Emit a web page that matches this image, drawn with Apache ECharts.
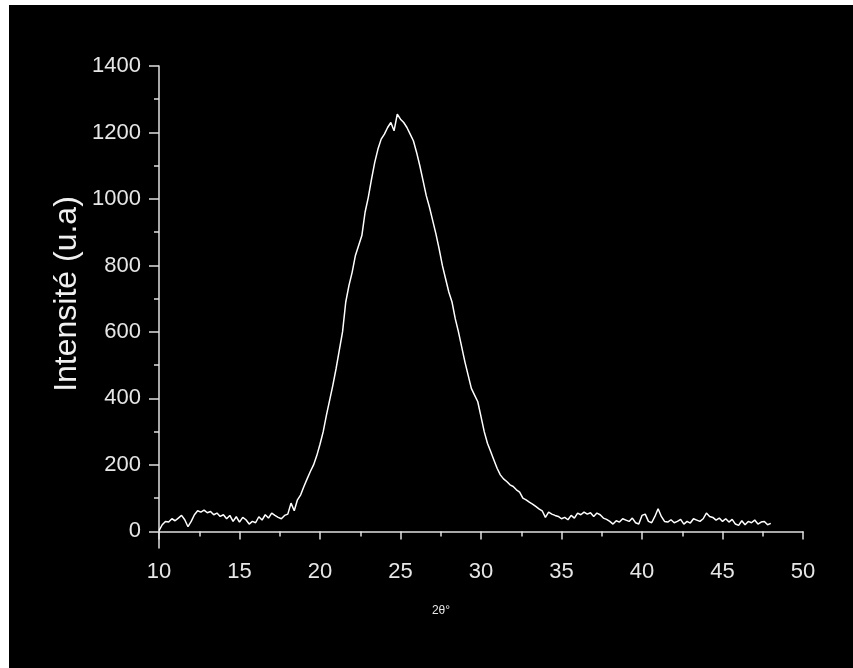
<!DOCTYPE html>
<html>
<head>
<meta charset="utf-8">
<script src="https://cdn.jsdelivr.net/npm/echarts@6/dist/echarts.min.js"></script>
<style>
  html, body { margin: 0; padding: 0; background: #fff; }
  #chart { width: 853px; height: 668px; }
</style>
</head>
<body>
<div id="chart"></div>
<script>
// 2theta sampling (degrees)
const twoTheta = [
  10.0, 10.2, 10.4, 10.6, 10.8, 11.0, 11.2, 11.4, 11.6, 11.8,
  12.0, 12.2, 12.4, 12.6, 12.8, 13.0, 13.2, 13.4, 13.6, 13.8,
  14.0, 14.2, 14.4, 14.6, 14.8, 15.0, 15.2, 15.4, 15.6, 15.8,
  16.0, 16.2, 16.4, 16.6, 16.8, 17.0, 17.2, 17.4, 17.6, 17.8,
  18.0, 18.2, 18.4, 18.6, 18.8, 19.0, 19.2, 19.4, 19.6, 19.8,
  20.0, 20.2, 20.4, 20.6, 20.8, 21.0, 21.2, 21.4, 21.6, 21.8,
  22.0, 22.2, 22.4, 22.6, 22.8, 23.0, 23.2, 23.4, 23.6, 23.8,
  24.0, 24.2, 24.4, 24.6, 24.8, 25.0, 25.2, 25.4, 25.6, 25.8,
  26.0, 26.2, 26.4, 26.6, 26.8, 27.0, 27.2, 27.4, 27.6, 27.8,
  28.0, 28.2, 28.4, 28.6, 28.8, 29.0, 29.2, 29.4, 29.6, 29.8,
  30.0, 30.2, 30.4, 30.6, 30.8, 31.0, 31.2, 31.4, 31.6, 31.8,
  32.0, 32.2, 32.4, 32.6, 32.8, 33.0, 33.2, 33.4, 33.6, 33.8,
  34.0, 34.2, 34.4, 34.6, 34.8, 35.0, 35.2, 35.4, 35.6, 35.8,
  36.0, 36.2, 36.4, 36.6, 36.8, 37.0, 37.2, 37.4, 37.6, 37.8,
  38.0, 38.2, 38.4, 38.6, 38.8, 39.0, 39.2, 39.4, 39.6, 39.8,
  40.0, 40.2, 40.4, 40.6, 40.8, 41.0, 41.2, 41.4, 41.6, 41.8,
  42.0, 42.2, 42.4, 42.6, 42.8, 43.0, 43.2, 43.4, 43.6, 43.8,
  44.0, 44.2, 44.4, 44.6, 44.8, 45.0, 45.2, 45.4, 45.6, 45.8,
  46.0, 46.2, 46.4, 46.6, 46.8, 47.0, 47.2, 47.4, 47.6, 47.8,
  48.0
];
// intensity (u.a)
const intensity = [
  2, 20, 30, 28, 38, 32, 40, 48, 35, 14,
  30, 50, 62, 58, 64, 56, 60, 50, 55, 45,
  50, 38, 48, 30, 44, 28, 42, 35, 22, 30,
  26, 44, 34, 50, 40, 55, 48, 42, 38, 48,
  52, 85, 62, 95, 110, 135, 158, 180, 200, 228,
  262, 300, 350, 395, 440, 490, 545, 600, 690, 740,
  780, 830, 860, 890, 960, 1005, 1060, 1110, 1150, 1180,
  1195, 1215, 1230, 1205, 1255, 1240, 1230, 1215, 1195, 1175,
  1140, 1100, 1055, 1010, 975, 935, 895, 850, 800, 760,
  720, 690, 640, 600, 555, 510, 470, 430, 410, 390,
  345, 300, 265, 240, 215, 190, 170, 158, 150, 140,
  135, 125, 118, 100, 95, 88, 82, 75, 68, 62,
  42, 58, 52, 48, 45, 38, 42, 35, 48, 40,
  55, 50, 58, 52, 56, 45, 55, 50, 40, 36,
  30, 22, 32, 28, 38, 34, 30, 40, 26, 22,
  48, 52, 30, 26, 45, 68, 45, 30, 28, 35,
  26, 30, 36, 22, 30, 25, 38, 34, 30, 38,
  55, 45, 42, 34, 40, 30, 38, 28, 36, 22,
  18, 32, 20, 30, 26, 34, 22, 28, 30, 20,
  24
];
const yMajorTicks = [0, 200, 400, 600, 800, 1000, 1200, 1400];
const yMinorTicks = [100, 300, 500, 700, 900, 1100, 1300];

const chart = echarts.init(document.getElementById('chart'));
const labelFont = { color: '#e6e6e6', fontSize: 22, fontFamily: 'Liberation Sans, Arial, sans-serif' };
const axisColor = '#e0e0e0';

const option = {
  backgroundColor: '#000',
  animation: false,
  grid: { left: 159, right: 50, top: 66, bottom: 120 },
  xAxis: {
    type: 'value',
    min: 10,
    max: 50,
    interval: 5,
    axisLine: { lineStyle: { color: axisColor, width: 1.5 } },
    axisTick: { length: 8, lineStyle: { color: axisColor, width: 1.5 } },
    minorTick: { show: true, splitNumber: 2, length: 5, lineStyle: { color: axisColor, width: 1.5 } },
    axisLabel: Object.assign({ margin: 13 }, labelFont),
    splitLine: { show: false }
  },
  yAxis: [{
    type: 'value',
    position: 'left',
    min: -50,
    max: 1400,
    axisLine: { show: true, lineStyle: { color: axisColor, width: 1.5 } },
    axisTick: { show: true, length: 10, customValues: yMajorTicks, lineStyle: { color: axisColor, width: 1.5 } },
    axisLabel: Object.assign({ margin: 18, customValues: yMajorTicks, formatter: v => String(v) }, labelFont),
    splitLine: { show: false }
  }, {
    type: 'value',
    position: 'left',
    offset: 0,
    min: -50,
    max: 1400,
    axisLine: { show: false },
    axisTick: { show: true, length: 5, customValues: yMinorTicks, lineStyle: { color: axisColor, width: 1.5 } },
    axisLabel: { show: false },
    splitLine: { show: false }
  }],
  series: [{
    type: 'line',
    showSymbol: false,
    data: twoTheta.map((t, i) => [t, intensity[i]]),
    lineStyle: { color: '#fff', width: 1.5 },
    itemStyle: { color: '#fff' }
  }],
  graphic: [
    { type: 'rect', shape: { x: 0, y: 0, width: 853, height: 5 }, style: { fill: '#fff' } },
    { type: 'rect', shape: { x: 0, y: 0, width: 9, height: 668 }, style: { fill: '#fff' } },
    {
      type: 'text', x: 67, y: 294, rotation: Math.PI / 2,
      style: {
        text: 'Intensité (u.a)', fill: '#f0f0f0', fontSize: 32,
        fontFamily: 'Liberation Sans, Arial, sans-serif',
        align: 'center', verticalAlign: 'middle'
      }
    },
    {
      type: 'text', x: 441, y: 611,
      style: {
        text: '2θ°', fill: '#e6e6e6', fontSize: 12,
        fontFamily: 'Liberation Sans, Arial, sans-serif',
        align: 'center', verticalAlign: 'middle'
      }
    }
  ]
};

chart.setOption(option);
</script>
</body>
</html>
